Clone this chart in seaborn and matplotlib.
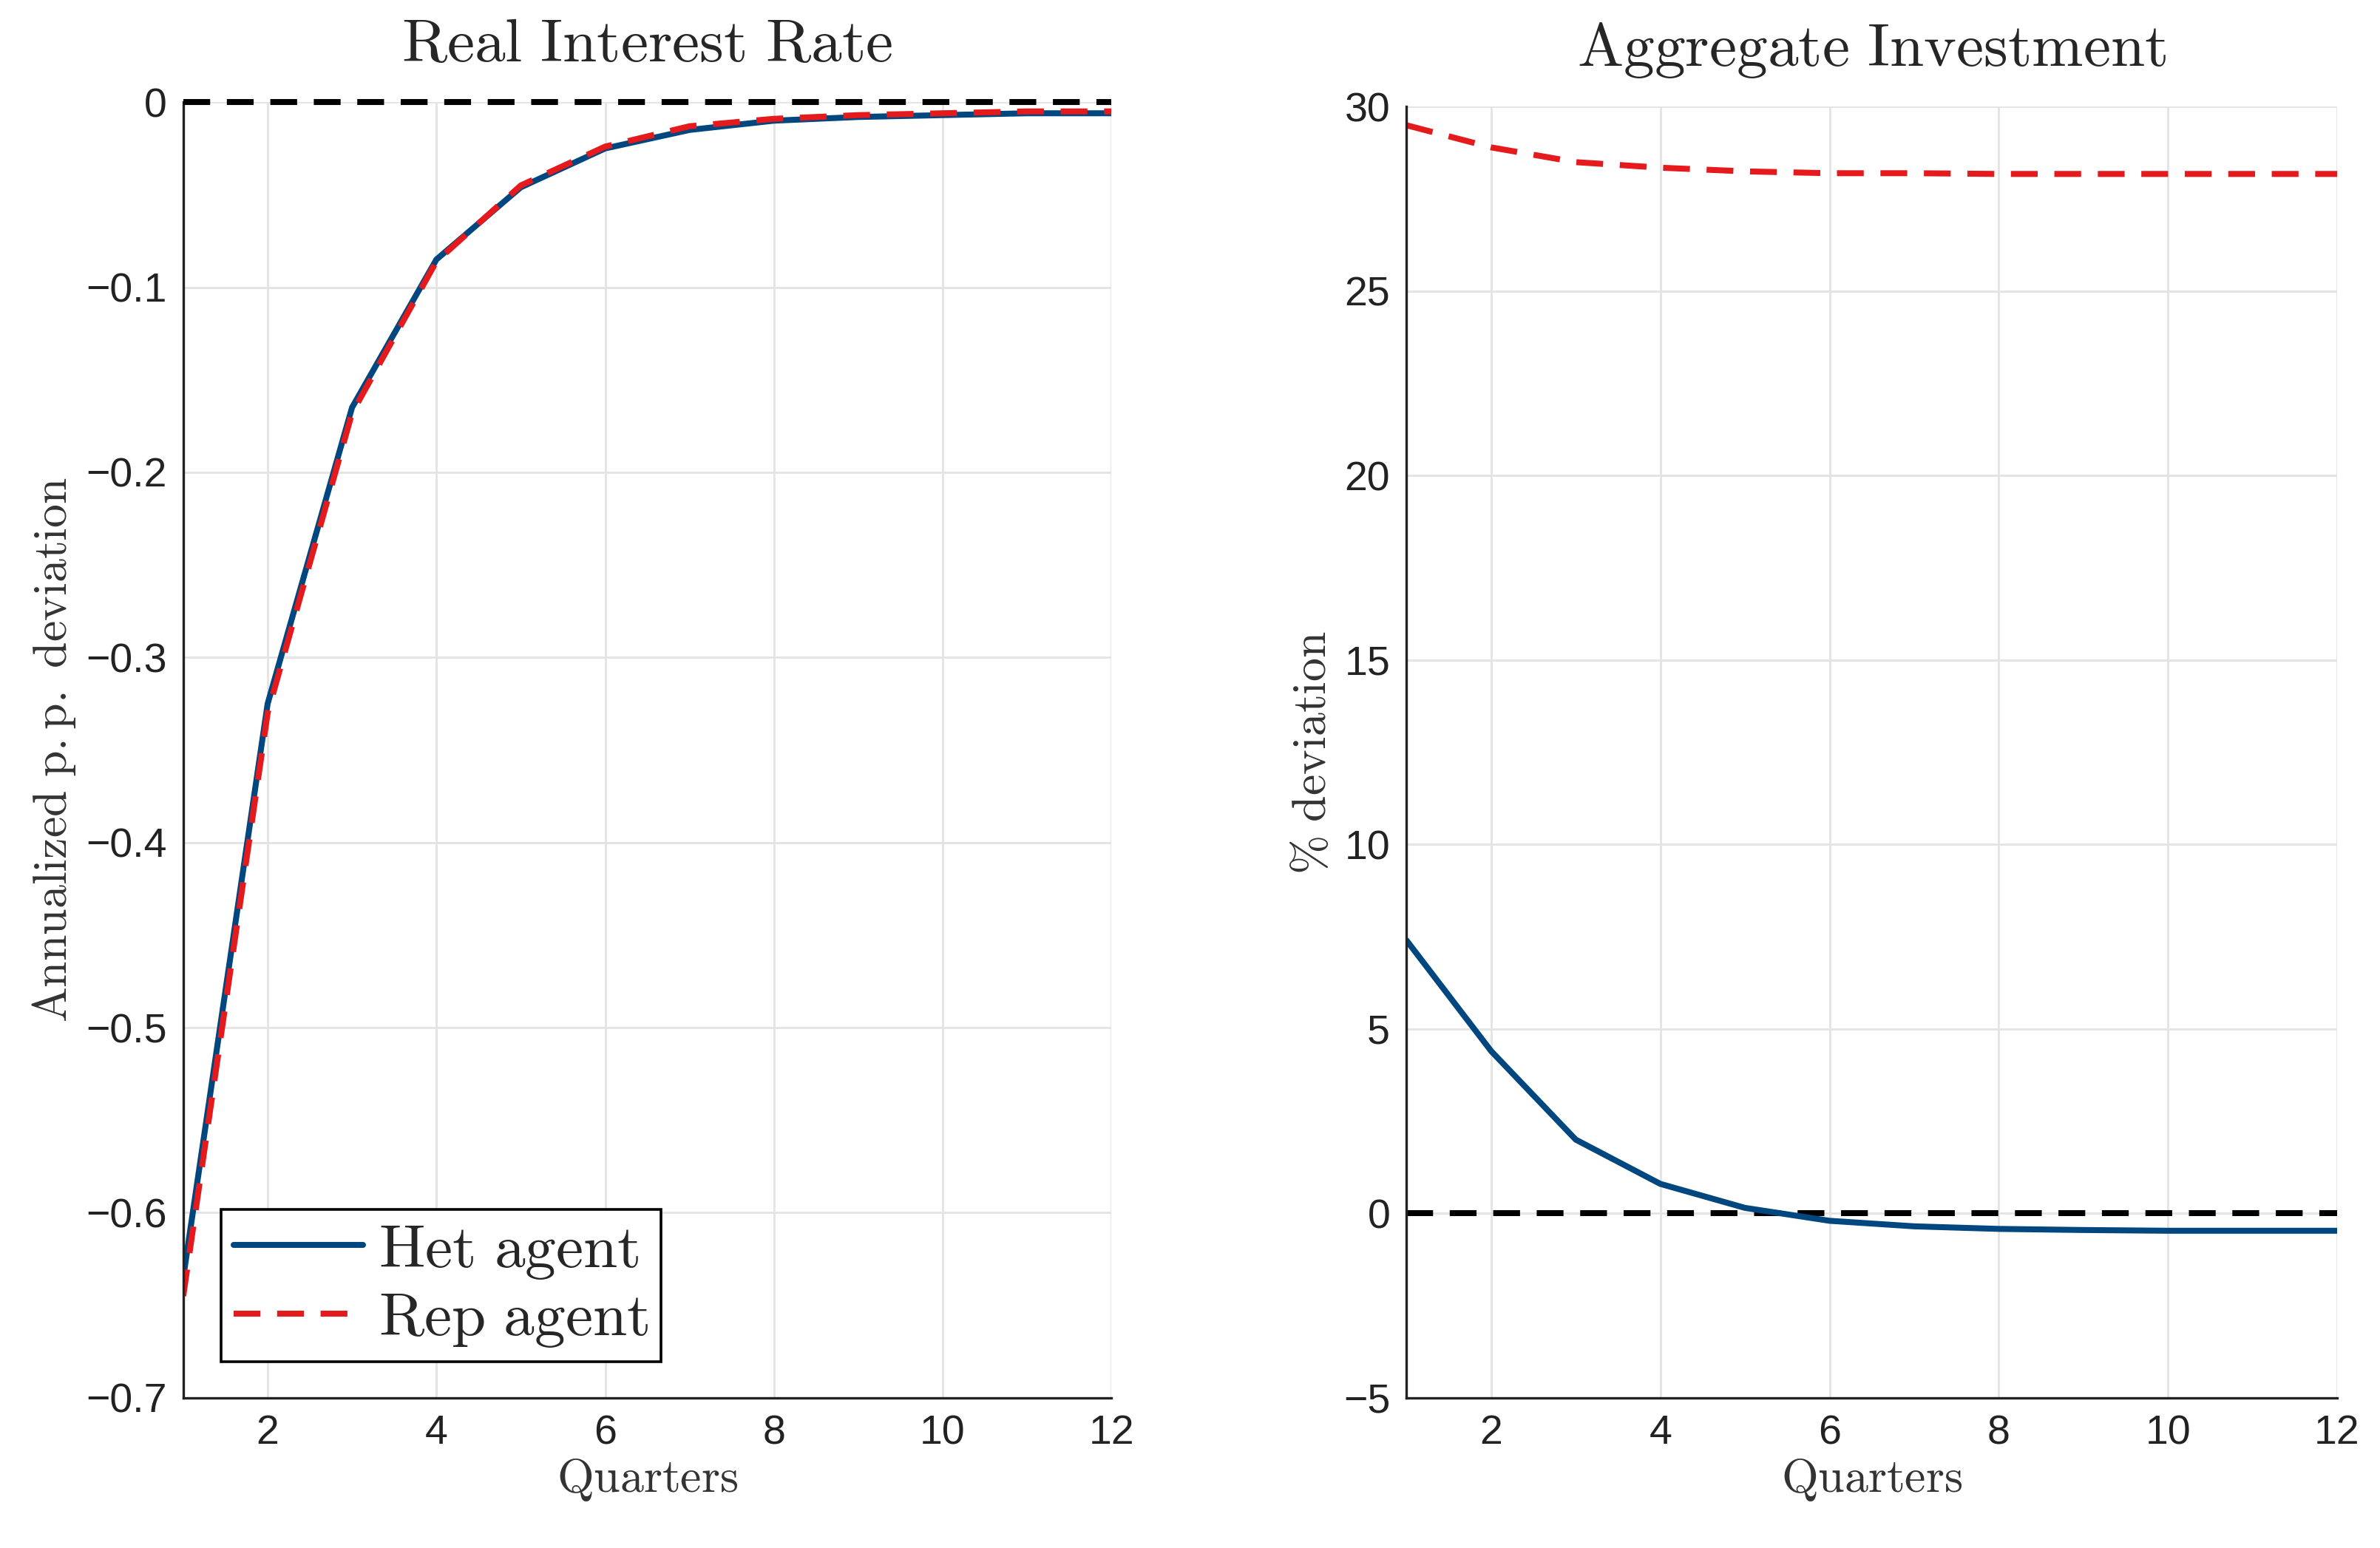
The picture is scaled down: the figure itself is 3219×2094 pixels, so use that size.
import matplotlib
matplotlib.use("Agg")
import matplotlib.pyplot as plt
import seaborn as sns
from matplotlib.ticker import FuncFormatter

# quarters after the shock
quarters = [1, 2, 3, 4, 5, 6, 7, 8, 9, 10, 11, 12]

# real interest rate, annualized p.p. deviation
rate_het = [-0.635, -0.325, -0.165, -0.085, -0.046, -0.025, -0.015, -0.010,
            -0.008, -0.007, -0.006, -0.006]
rate_rep = [-0.645, -0.330, -0.168, -0.086, -0.045, -0.024, -0.013, -0.009,
            -0.007, -0.006, -0.005, -0.005]

# aggregate investment, % deviation
inv_het = [7.4, 4.4, 2.0, 0.8, 0.15, -0.2, -0.35, -0.42, -0.45, -0.47, -0.47, -0.47]
inv_rep = [29.5, 28.9, 28.5, 28.35, 28.25, 28.2, 28.2, 28.18, 28.18, 28.18, 28.18, 28.18]

sns.set_style("white")
plt.rcParams['font.family'] = ['Liberation Sans Narrow', 'Liberation Sans', 'DejaVu Sans']
plt.rcParams['mathtext.fontset'] = 'cm'

blue = '#00467f'
red = '#e41a1c'
lw = 2.9
dash = (4.5, 2.8)

fig = plt.figure(figsize=(16.095, 10.47), dpi=200)
ax1 = fig.add_axes([0.077, 0.097, 0.390, 0.837])
ax2 = fig.add_axes([0.591, 0.097, 0.391, 0.834])


def style_axes(ax):
    ax.grid(True, color='#e3e3e3', lw=1.0)
    ax.set_axisbelow(True)
    for s in ['top', 'right']:
        ax.spines[s].set_visible(False)
    for s in ['left', 'bottom']:
        ax.spines[s].set_color('#222222')
        ax.spines[s].set_linewidth(1.2)
    ax.tick_params(direction='in', length=5, width=1.2, labelsize=20,
                   colors='#222222', top=False, right=False, pad=8)
    ax.set_xlim(1, 12)
    ax.set_xticks([2, 4, 6, 8, 10, 12])
    ax.set_xlabel(r'$\mathrm{Quarters}$', fontsize=23, color='#333333', labelpad=2)


minus_fmt = FuncFormatter(lambda v, p: ('%g' % v).replace('-', '\u2212'))

# left panel
sns.lineplot(x=quarters, y=[0] * len(quarters), ax=ax1, color='black', lw=lw,
             clip_on=False, zorder=5).lines[-1].set_dashes(dash)
sns.lineplot(x=quarters, y=rate_het, ax=ax1, color=blue, lw=lw, label=r'$\mathrm{Het\ agent}$')
sns.lineplot(x=quarters, y=rate_rep, ax=ax1, color=red, lw=lw,
             label=r'$\mathrm{Rep\ agent}$').lines[-1].set_dashes(dash)
style_axes(ax1)
ax1.set_ylim(-0.7, 0)
ax1.set_yticks([-0.7, -0.6, -0.5, -0.4, -0.3, -0.2, -0.1, 0])
ax1.yaxis.set_major_formatter(minus_fmt)
ax1.set_title(r'$\mathrm{Real\ Interest\ Rate}$', fontsize=30, pad=20)
ax1.set_ylabel(r'$\mathrm{Annualized\ p.p.\ deviation}$', fontsize=23, color='#333333',
               labelpad=4)
leg = ax1.legend(loc='lower left', bbox_to_anchor=(0.041, 0.028), borderaxespad=0,
                 fontsize=30, frameon=True, fancybox=False, edgecolor='black',
                 framealpha=1, handlelength=2.1, handletextpad=0.25, borderpad=0.2,
                 labelspacing=0.15)
leg.get_frame().set_linewidth(1.3)

# right panel
sns.lineplot(x=quarters, y=[0] * len(quarters), ax=ax2, color='black',
             lw=lw).lines[-1].set_dashes(dash)
sns.lineplot(x=quarters, y=inv_het, ax=ax2, color=blue, lw=lw)
sns.lineplot(x=quarters, y=inv_rep, ax=ax2, color=red, lw=lw).lines[-1].set_dashes(dash)
style_axes(ax2)
ax2.set_ylim(-5, 30)
ax2.set_yticks([-5, 0, 5, 10, 15, 20, 25, 30])
ax2.yaxis.set_major_formatter(minus_fmt)
ax2.set_title(r'$\mathrm{Aggregate\ Investment}$', fontsize=30, pad=20)
ax2.set_ylabel(r'$\%\ \mathrm{deviation}$', fontsize=23, color='#333333', labelpad=4)

fig.savefig('out.png', dpi=200)
